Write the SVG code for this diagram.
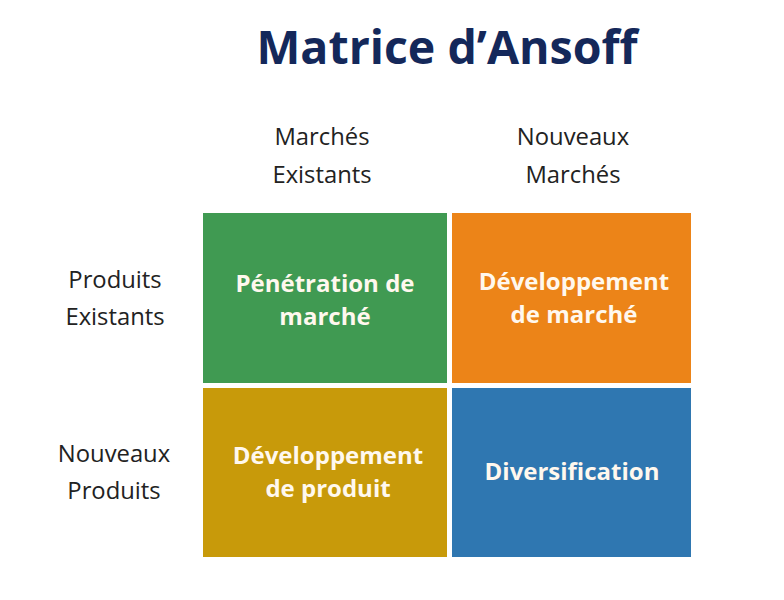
<svg xmlns="http://www.w3.org/2000/svg" width="784" height="600" viewBox="0 0 784 600">
<style>
.title{font-family:"Open Sans","Liberation Sans",sans-serif;font-weight:700;font-size:46.5px;fill:#14285a;text-anchor:middle}
.hdr{font-family:"Open Sans","Liberation Sans",sans-serif;font-size:23.8px;fill:#222;text-anchor:middle}
.cell{font-family:"Open Sans","Liberation Sans",sans-serif;font-weight:700;font-size:24px;fill:#fff8ee;text-anchor:middle}
</style>
<rect width="784" height="600" fill="#ffffff"/>
<text class="title" x="447" y="64">Matrice d’Ansoff</text>
<g id="col-headers">
<text class="hdr" x="322" y="145">Marchés</text>
<text class="hdr" x="322" y="183">Existants</text>
<text class="hdr" x="573" y="145">Nouveaux</text>
<text class="hdr" x="573" y="183">Marchés</text>
</g>
<g id="row-headers">
<text class="hdr" x="115" y="288">Produits</text>
<text class="hdr" x="115" y="325">Existants</text>
<text class="hdr" x="114" y="462">Nouveaux</text>
<text class="hdr" x="114" y="499">Produits</text>
</g>
<g id="penetration">
<rect x="203" y="213" width="244" height="170" fill="#409a52"/>
<text class="cell" x="325" y="292">Pénétration de</text>
<text class="cell" x="325" y="325">marché</text>
</g>
<g id="dev-marche">
<rect x="452" y="213" width="239" height="170" fill="#ec8418"/>
<text class="cell" x="574" y="290">Développement</text>
<text class="cell" x="574" y="323">de marché</text>
</g>
<g id="dev-produit">
<rect x="203" y="388" width="244" height="169" fill="#c89a0a"/>
<text class="cell" x="328" y="464">Développement</text>
<text class="cell" x="328" y="497">de produit</text>
</g>
<g id="diversification">
<rect x="452" y="388" width="239" height="169" fill="#2f77b1"/>
<text class="cell" x="572" y="480">Diversification</text>
</g>
<g id="connectors"/>
</svg>
